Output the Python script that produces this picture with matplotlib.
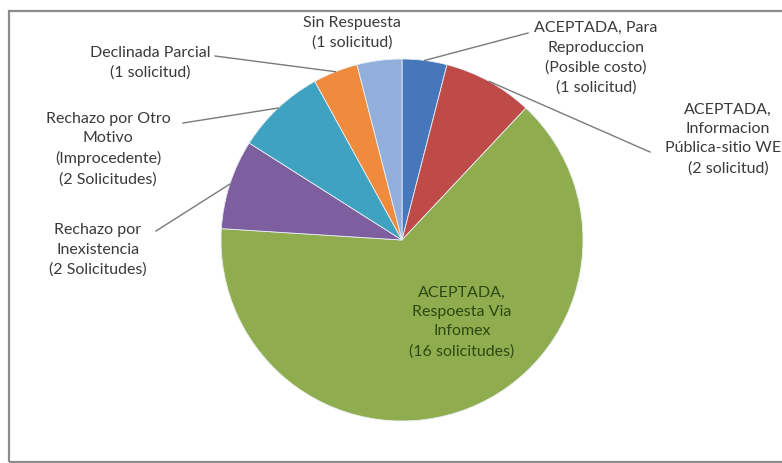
"""Pie chart of the request outcomes (solicitudes) recreated with matplotlib."""

import matplotlib.pyplot as plt
import numpy as np
from matplotlib.patches import Rectangle

plt.rcParams["font.family"] = ["Lato", "DejaVu Sans"]

labels = [
    "ACEPTADA, Para\nReproduccion\n(Posible costo)\n(1 solicitud)",
    "ACEPTADA,\nInformacion\nPública-sitio WEB\n(2 solicitud)",
    "ACEPTADA,\nRespoesta Via\nInfomex\n(16 solicitudes)",
    "Rechazo por\nInexistencia\n(2 Solicitudes)",
    "Rechazo por Otro\nMotivo\n(Improcedente)\n(2 Solicitudes)",
    "Declinada Parcial\n(1 solicitud)",
    "Sin Respuesta\n(1 solicitud)",
]
counts = [1, 2, 16, 2, 2, 1, 1]
colors = ["#4677BA", "#BE4B48", "#8FAD4E", "#7D5FA0", "#3FA2C0", "#F08A3C", "#92AEDA"]

# label anchor (pixel coords, y from top), leader line on/off
label_pos = [(596, 58), (728, 139), (462, 322), (98, 250), (108, 149), (150, 63), (352, 33)]
leader = [True, True, False, True, True, True, False]
leader_start = [(528, 33), (650, 152), None, (156, 231), (183, 123), (215, 56), None]

W, H = 782, 463
center = (402, H - 240)
radius = 181

fig = plt.figure(figsize=(W / 100, H / 100), dpi=100)
ax = fig.add_axes([0, 0, 1, 1])

wedges, _ = ax.pie(
    counts,
    colors=colors,
    startangle=90,
    counterclock=False,
    center=center,
    radius=radius,
    wedgeprops={"linewidth": 0.6, "edgecolor": "#e8eef5"},
    frame=True,
)
ax.set_xlim(0, W)
ax.set_ylim(0, H)
ax.set_aspect("auto")
ax.axis("off")

for i, w in enumerate(wedges):
    mid = np.deg2rad((w.theta1 + w.theta2) / 2)
    edge = (center[0] + radius * np.cos(mid), center[1] + radius * np.sin(mid))
    x, y = label_pos[i]
    color = "#2c4a12" if i == 2 else "#3a3a3a"
    ax.text(x, H - y, labels[i], ha="center", va="center", fontsize=11.5,
            color=color, linespacing=1.5)
    if leader[i]:
        sx, sy = leader_start[i]
        ax.plot([sx, edge[0]], [H - sy, edge[1]], color="#7a7a7a", linewidth=1.0)

ax.add_patch(Rectangle((8.5, 1.5), W + 20, H - 12, fill=False,
                       edgecolor="#8c8c8c", linewidth=1.6, clip_on=False))

fig.savefig("out.png", dpi=100)
